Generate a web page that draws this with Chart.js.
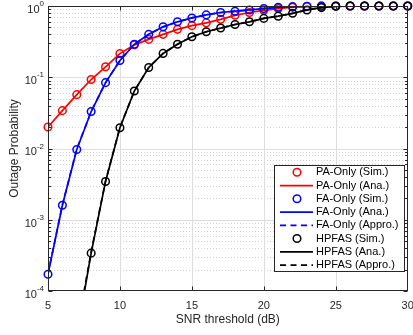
<!DOCTYPE html>
<html>
<head>
<meta charset="utf-8">
<script src="https://cdn.jsdelivr.net/npm/chart.js@4/dist/chart.umd.min.js"></script>
<style>
  html, body { margin: 0; padding: 0; background: #fff; }
</style>
</head>
<body>
<canvas id="chart" width="413" height="335"></canvas>
<script>
// SNR threshold (dB)
const snr = [5, 6, 7, 8, 9, 10, 11, 12, 13, 14, 15, 16, 17, 18, 19, 20, 21, 22, 23, 24, 25, 26, 27, 28, 29, 30];

const paOnly = [0.020, 0.034, 0.057, 0.093, 0.14, 0.215, 0.285, 0.34, 0.40, 0.47, 0.53, 0.58, 0.65, 0.74, 0.81, 0.87, 0.92, 0.96, 0.985, 0.995, 1, 1, 1, 1, 1, 1];

const faOnly = [1.72e-4, 1.6e-3, 0.0097, 0.033, 0.084, 0.172, 0.29, 0.40, 0.51, 0.60, 0.68, 0.75, 0.81, 0.845, 0.88, 0.92, 0.96, 0.98, 0.99, 0.997, 1, 1, 1, 1, 1, 1];
const faOnlyApprox = [1.75e-4, 1.62e-3, 0.0098, 0.033, 0.084, 0.172, 0.29, 0.40, 0.51, 0.60, 0.68, 0.75, 0.81, 0.845, 0.88, 0.92, 0.96, 0.98, 0.99, 0.997, 1, 1, 1, 1, 1, 1];

const hpfas = [null, null, 2.4e-5, 3.4e-4, 3.45e-3, 0.0196, 0.064, 0.137, 0.216, 0.29, 0.37, 0.435, 0.49, 0.55, 0.60, 0.67, 0.72, 0.79, 0.88, 0.95, 0.99, 0.998, 1, 1, 1, 1];
const hpfasSim = [null, null, null, 3.4e-4, 3.45e-3, 0.0196, 0.064, 0.137, 0.216, 0.29, 0.37, 0.435, 0.49, 0.55, 0.60, 0.67, 0.72, 0.79, 0.88, 0.95, 0.99, 0.998, 1, 1, 1, 1];
const hpfasApprox = [null, null, 2.7e-5, 3.55e-4, 3.5e-3, 0.0198, 0.064, 0.137, 0.216, 0.29, 0.37, 0.435, 0.49, 0.55, 0.60, 0.67, 0.72, 0.79, 0.88, 0.95, 0.99, 0.998, 1, 1, 1, 1];

const xTicks = [5, 10, 15, 20, 25, 30];
const yExponents = [0, -1, -2, -3, -4];

const seriesLabels = [
  "PA-Only (Sim.)", "PA-Only (Ana.)",
  "FA-Only (Sim.)", "FA-Only (Ana.)", "FA-Only (Appro.)",
  "HPFAS (Sim.)", "HPFAS (Ana.)", "HPFAS (Appro.)"
];

const FONT = '"Liberation Sans", Arial, Helvetica, sans-serif';
const AXIS_COLOR = "#262626";

const toPoints = (values) => snr.map((x, i) => ({ x, y: values[i] }));

const simSet = (label, values, color) => ({
  label,
  data: toPoints(values),
  showLine: false,
  borderColor: color,
  backgroundColor: "rgba(0,0,0,0)",
  pointRadius: 3.8,
  pointBorderWidth: 1.5,
  pointHoverRadius: 3.8,
  pointStyle: "circle",
  clip: false,
});

const lineSet = (label, values, color, dashed) => ({
  label,
  data: toPoints(values),
  borderColor: color,
  backgroundColor: color,
  borderWidth: 1.7,
  borderDash: dashed ? [6, 4] : [],
  pointRadius: 0,
  tension: 0,
});

const datasets = [
  simSet(seriesLabels[0], paOnly, "#ff0000"),
  lineSet(seriesLabels[1], paOnly, "#ff0000", false),
  simSet(seriesLabels[2], faOnly, "#0000ff"),
  lineSet(seriesLabels[3], faOnly, "#0000ff", false),
  lineSet(seriesLabels[4], faOnlyApprox, "#0000ff", true),
  simSet(seriesLabels[5], hpfasSim, "#000000"),
  lineSet(seriesLabels[6], hpfas, "#000000", false),
  lineSet(seriesLabels[7], hpfasApprox, "#000000", true),
];
// later series drawn on top, like the original plot
datasets.forEach((d, i) => { d.order = datasets.length - i; });

const hline = (ctx, x1, x2, y) => { ctx.beginPath(); ctx.moveTo(x1, y); ctx.lineTo(x2, y); ctx.stroke(); };
const vline = (ctx, x, y1, y2) => { ctx.beginPath(); ctx.moveTo(x, y1); ctx.lineTo(x, y2); ctx.stroke(); };

const matlabAxes = {
  id: "matlabAxes",
  beforeDatasetsDraw(chart) {
    const { ctx, chartArea: a, scales: { x, y } } = chart;
    ctx.save();
    ctx.lineWidth = 1;
    // minor grid (dotted)
    ctx.strokeStyle = "#d2d2d2";
    ctx.setLineDash([1, 2]);
    for (let e = -4; e < 0; e++) {
      for (let m = 2; m <= 9; m++) {
        const py = Math.round(y.getPixelForValue(m * Math.pow(10, e))) + 0.5;
        hline(ctx, a.left, a.right, py);
      }
    }
    ctx.setLineDash([]);
    // major grid
    ctx.strokeStyle = "#dedede";
    yExponents.slice(1, -1).forEach((e) => {
      const py = Math.round(y.getPixelForValue(Math.pow(10, e))) + 0.5;
      hline(ctx, a.left, a.right, py);
    });
    xTicks.slice(1, -1).forEach((v) => {
      const px = Math.round(x.getPixelForValue(v)) + 0.5;
      vline(ctx, px, a.top, a.bottom);
    });
    ctx.restore();
  },
  afterDatasetsDraw(chart) {
    const { ctx, chartArea: a, scales: { x, y } } = chart;
    ctx.save();
    ctx.lineWidth = 1;
    ctx.strokeStyle = AXIS_COLOR;
    const L = Math.round(a.left) + 0.5, R = Math.round(a.right) - 0.5;
    const T = Math.round(a.top) + 0.5, B = Math.round(a.bottom) - 0.5;
    ctx.strokeRect(L, T, R - L, B - T);

    // inward tick marks
    for (let e = -4; e < 0; e++) {
      for (let m = 1; m <= 9; m++) {
        const py = Math.round(y.getPixelForValue(m * Math.pow(10, e))) + 0.5;
        const len = m === 1 ? 4 : 2.5;
        hline(ctx, L, L + len, py);
        hline(ctx, R - len, R, py);
      }
    }
    xTicks.slice(1, -1).forEach((v) => {
      const px = Math.round(x.getPixelForValue(v)) + 0.5;
      vline(ctx, px, B - 4, B);
      vline(ctx, px, T, T + 4);
    });

    // y tick labels 10^n
    ctx.fillStyle = AXIS_COLOR;
    ctx.textBaseline = "middle";
    ctx.textAlign = "left";
    yExponents.forEach((e) => {
      const py = y.getPixelForValue(Math.pow(10, e));
      const expText = String(e);
      ctx.font = `8px ${FONT}`;
      const expW = ctx.measureText(expText).width;
      ctx.font = `11px ${FONT}`;
      const baseW = ctx.measureText("10").width;
      const right = a.left - 4;
      ctx.fillText("10", right - expW - baseW, py + 3.8);
      ctx.font = `8px ${FONT}`;
      ctx.fillText(expText, right - expW, py - 2);
    });
    ctx.restore();
  },
  afterDraw(chart) {
    const { ctx } = chart;
    const box = { left: 274.5, top: 165.5, width: 130, height: 106 };
    ctx.save();
    ctx.fillStyle = "#fff";
    ctx.fillRect(box.left, box.top, box.width, box.height);
    ctx.strokeStyle = AXIS_COLOR;
    ctx.lineWidth = 1;
    ctx.strokeRect(box.left, box.top, box.width, box.height);
    chart.data.datasets.forEach((d, i) => {
      const cy = 172.3 + 13.25 * i;
      ctx.strokeStyle = d.borderColor;
      if (d.showLine === false) {
        ctx.lineWidth = d.pointBorderWidth;
        ctx.beginPath();
        ctx.arc(297, cy, d.pointRadius, 0, Math.PI * 2);
        ctx.stroke();
      } else {
        ctx.lineWidth = d.borderWidth;
        ctx.setLineDash(d.borderDash.length ? [6, 4.5] : []);
        hline(ctx, 280, 313, cy);
        ctx.setLineDash([]);
      }
      ctx.fillStyle = "#000";
      ctx.font = `11px ${FONT}`;
      ctx.textBaseline = "middle";
      ctx.textAlign = "left";
      ctx.fillText(d.label, 316, cy);
    });
    ctx.restore();
  },
};

new Chart(document.getElementById("chart").getContext("2d"), {
  type: "line",
  data: { datasets },
  options: {
    responsive: false,
    animation: false,
    devicePixelRatio: 1,
    layout: { padding: { top: 6, right: 4, left: 0, bottom: 0 } },
    plugins: { legend: { display: false }, tooltip: { enabled: false } },
    scales: {
      x: {
        type: "linear",
        min: 5,
        max: 30,
        grid: { display: false, drawTicks: false },
        border: { display: false },
        afterBuildTicks: (s) => { s.ticks = xTicks.map((v) => ({ value: v })); },
        ticks: {
          color: AXIS_COLOR,
          font: { family: FONT, size: 11 },
          padding: 8,
          maxRotation: 0,
          autoSkip: false,
        },
        title: {
          display: true,
          text: "SNR threshold (dB)",
          color: AXIS_COLOR,
          font: { family: FONT, size: 12 },
          padding: { top: 0, bottom: 8.3 },
        },
        afterFit: (s) => { s.height = 44; s.paddingLeft = 0; s.paddingRight = 0; },
      },
      y: {
        type: "logarithmic",
        min: 1e-4,
        max: 1,
        grid: { display: false },
        border: { display: false },
        ticks: { display: false },
        title: {
          display: true,
          text: "Outage Probability",
          color: AXIS_COLOR,
          font: { family: FONT, size: 12 },
          padding: { top: 7.5, bottom: 0 },
        },
        afterFit: (s) => { s.width = 48; },
      },
    },
  },
  plugins: [matlabAxes],
});
</script>
</body>
</html>
